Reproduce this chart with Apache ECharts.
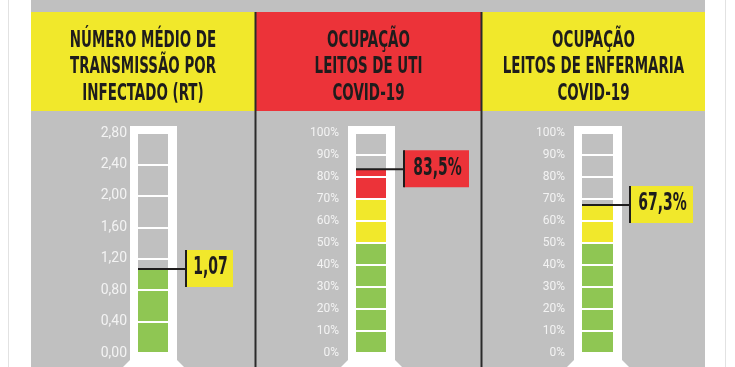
<!DOCTYPE html>
<html>
<head>
<meta charset="utf-8">
<script src="https://cdn.jsdelivr.net/npm/echarts@6/dist/echarts.min.js"></script>
<style>html,body{margin:0;padding:0;background:#fff;}#c{width:735px;height:367px;}</style>
</head>
<body>
<div id="c"></div>
<script>
// ---- data ----
const panelTitles = [
  ['NÚMERO MÉDIO DE', 'TRANSMISSÃO POR', 'INFECTADO (RT)'],
  ['OCUPAÇÃO', 'LEITOS DE UTI', 'COVID-19'],
  ['OCUPAÇÃO', 'LEITOS DE ENFERMARIA', 'COVID-19']
];
const rtValues = [1.07];
const utiValues = [83.5];
const enfValues = [67.3];
const rtAxisMax = 2.8;
const rtAxisStep = 0.4;
const pctAxisMax = 100;
const pctAxisStep = 10;
const zoneBreaks = [50, 70]; // green up to 50, yellow up to 70, red above

// ---- styles ----
const GRAY = '#c0c0c0', YELLOW = '#f1e82b', RED = '#ec3339', GREEN = '#8fc653', INK = '#1e1c1c';
const CONDENSED = "'DejaVu Sans Condensed','Liberation Sans Narrow',sans-serif";
const headerFill = [YELLOW, RED, YELLOW];
const headerX = [31, 256, 482], headerW = [224, 225, 223];
const grids = [
  {left: 138, top: 133, width: 30, height: 220},
  {left: 356, top: 133, width: 30, height: 220},
  {left: 582, top: 133, width: 31, height: 220}
];
const boxW = [47, 65, 63];
const labelMargin = [11, 17, 17];

const chart = echarts.init(document.getElementById('c'), null, {renderer: 'canvas'});

// decorations
const graphics = [
  {type: 'rect', z: -20, shape: {x: 31, y: 0, width: 674, height: 367}, style: {fill: GRAY}},
  {type: 'line', z: -20, shape: {x1: 8.5, y1: 0, x2: 8.5, y2: 367}, style: {stroke: '#e2e2e2', lineWidth: 1}},
  {type: 'line', z: -20, shape: {x1: 725.5, y1: 0, x2: 725.5, y2: 367}, style: {stroke: '#e2e2e2', lineWidth: 1}}
];
for (let i = 0; i < 3; i++) {
  graphics.push({type: 'rect', z: -19, shape: {x: headerX[i], y: 12, width: headerW[i], height: 99}, style: {fill: headerFill[i]}});
  panelTitles[i].forEach((t, k) => {
    graphics.push({type: 'text', z: -18, x: headerX[i] + headerW[i] / 2, y: 41 + k * 26.5, scaleX: 0.83, scaleY: 1.25,
      style: {text: t, fill: INK, font: "bold 18px " + CONDENSED, align: 'center', verticalAlign: 'middle'}});
  });
  const g = grids[i];
  const ox = g.left - 8, ow = g.width + 17;
  graphics.push({type: 'rect', z: -17, shape: {x: ox, y: 126, width: ow, height: 241}, style: {fill: '#ffffff'}});
  graphics.push({type: 'polygon', z: -17, shape: {points: [[ox, 360], [ox - 8, 368], [ox + ow + 8, 368], [ox + ow, 360]]}, style: {fill: '#ffffff'}});
  graphics.push({type: 'rect', z: -16, shape: {x: g.left, y: g.top, width: g.width, height: g.height}, style: {fill: GRAY}});
}
graphics.push({type: 'rect', z: -15, shape: {x: 254.5, y: 12, width: 2, height: 355}, style: {fill: '#2a2a2a'}});
graphics.push({type: 'rect', z: -15, shape: {x: 480.5, y: 12, width: 2, height: 355}, style: {fill: '#2a2a2a'}});

function commaFmt(v, d) { return v.toFixed(d).replace('.', ','); }

function yAxisFor(i, max, step, fmt) {
  return {
    gridIndex: i, type: 'value', min: 0, max: max, interval: step, z: 5,
    axisLine: {show: false}, axisTick: {show: false},
    splitLine: {show: true, lineStyle: {color: '#ffffff', width: 2}},
    axisLabel: {color: '#f3f3f3', fontFamily: 'Roboto', fontSize: i === 0 ? 14 : 12, margin: labelMargin[i], formatter: fmt}
  };
}

function pointer(i, values, color, digits, suffix) {
  return {
    type: 'custom', xAxisIndex: i, yAxisIndex: i, z: 10,
    data: values.map(v => [0, v]),
    renderItem: function (params, api) {
      const v = api.value(1);
      const p = api.coord([api.value(0), v]);
      const band = api.size([1, 0])[0];
      const x0 = p[0] - band / 2;
      const xe = x0 + 48;
      const y = p[1];
      return {type: 'group', children: [
        {type: 'rect', shape: {x: xe, y: y - 19, width: boxW[i], height: 37}, style: {fill: color}},
        {type: 'line', shape: {x1: x0, y1: y, x2: xe, y2: y}, style: {stroke: INK, lineWidth: 2}},
        {type: 'line', shape: {x1: xe, y1: y - 19, x2: xe, y2: y + 18}, style: {stroke: INK, lineWidth: 2}},
        {type: 'text', x: xe + boxW[i] / 2 + 1, y: y - 1, scaleX: 0.74, scaleY: 1.2,
          style: {text: commaFmt(v, digits) + suffix, fill: INK, font: 'bold 21px ' + CONDENSED, align: 'center', verticalAlign: 'middle'}}
      ]};
    }
  };
}

function zoneBars(i, values) {
  const green = values.map(v => Math.min(v, zoneBreaks[0]));
  const yellow = values.map(v => Math.max(0, Math.min(v, zoneBreaks[1]) - zoneBreaks[0]));
  const red = values.map(v => Math.max(0, v - zoneBreaks[1]));
  return [[green, GREEN], [yellow, YELLOW], [red, RED]].map(([d, c]) => ({
    type: 'bar', xAxisIndex: i, yAxisIndex: i, stack: 's' + i, barWidth: '100%', data: d,
    itemStyle: {color: c}, silent: true
  }));
}

const option = {
  animation: false,
  backgroundColor: '#ffffff',
  grid: grids,
  xAxis: grids.map((g, i) => ({gridIndex: i, type: 'category', data: ['v'], show: false})),
  yAxis: [
    yAxisFor(0, rtAxisMax, rtAxisStep, v => commaFmt(v, 2)),
    yAxisFor(1, pctAxisMax, pctAxisStep, v => v + '%'),
    yAxisFor(2, pctAxisMax, pctAxisStep, v => v + '%')
  ],
  graphic: {elements: graphics},
  series: [
    {type: 'bar', xAxisIndex: 0, yAxisIndex: 0, barWidth: '100%', data: rtValues, itemStyle: {color: GREEN}, silent: true},
    ...zoneBars(1, utiValues),
    ...zoneBars(2, enfValues),
    pointer(0, rtValues, YELLOW, 2, ''),
    pointer(1, utiValues, RED, 1, '%'),
    pointer(2, enfValues, YELLOW, 1, '%')
  ]
};
chart.setOption(option);
</script>
</body>
</html>
